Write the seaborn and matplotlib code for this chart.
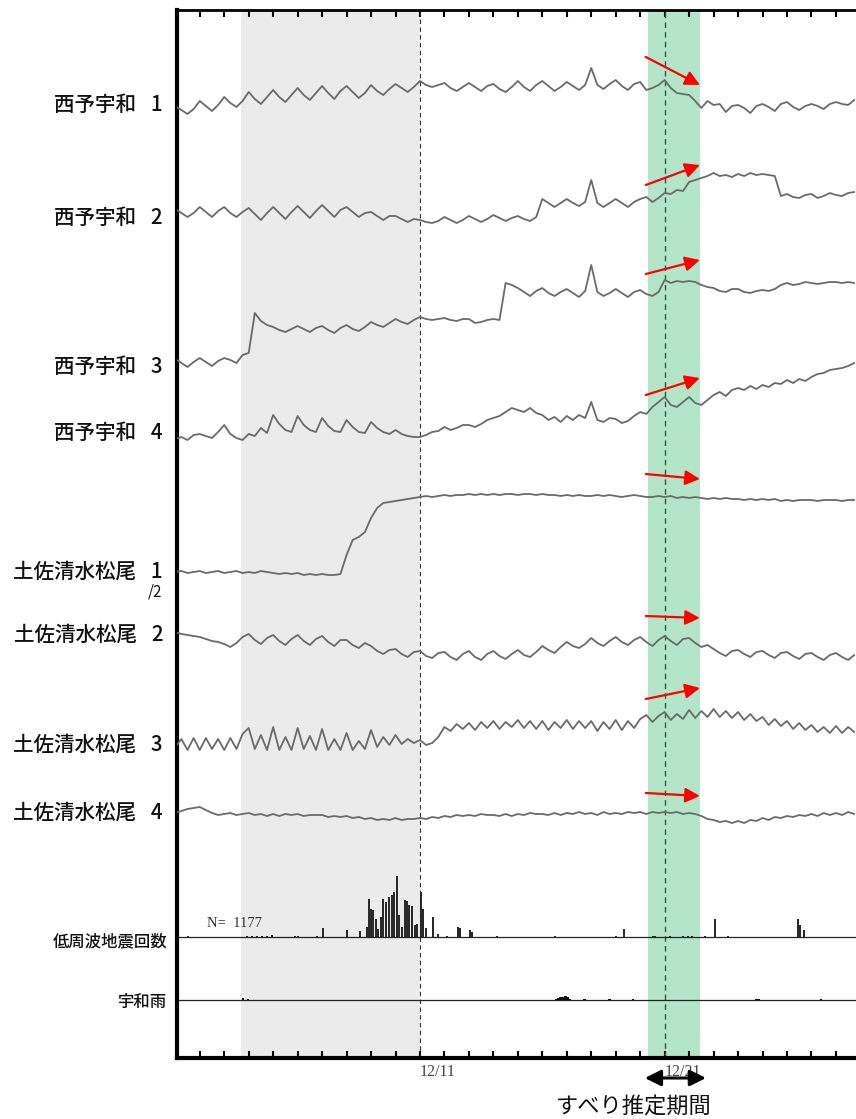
import numpy as np
import pandas as pd
import matplotlib
matplotlib.use("Agg")
import matplotlib.pyplot as plt
import seaborn as sns

# ---------------- data ----------------
# strain-like traces, 4 samples per day starting 12/1 00:00, arbitrary units (up positive)
seiyo_uwa_1 = [4,0,-4,1, 9,4,-1,5, 13,7,3,9, 18,11,6,13, 20,13,8,15, 22,15,10,17, 24,17,11,19,
               24,18,12,17, 25,19,15,21, 26,22,18,23, 29,25,23,25, 27,22,19,23, 27,23,19,24,
               26,21,18,23, 29,23,19,25, 29,24,19,23, 28,24,20,25, 42,25,21,26, 30,24,20,26,
               28,20,22,25, 30,22,17,16, 15,9,2,9, 5,6,-2,4, 5,2,-3,4, 6,3,-1,6, 8,3,0,4,
               6,4,1,6, 8,6,5,10]
seiyo_uwa_2 = [4,0,-4,0, 6,1,-4,2, 6,0,-4,1, 5,-1,-7,0, 6,0,-6,1, 7,1,-5,2, 8,2,-4,3,
               6,1,-4,0, 1,-3,-7,-3, -3,-6,-9,-6, -7,-9,-10,-8, -4,-7,-10,-7, -3,-6,-9,-6,
               -2,-5,-8,-5, -3,-6,-8,-4, 14,10,6,10, 14,10,7,11, 33,10,6,10, 14,10,6,11,
               14,16,11,15, 20,19,23,22, 31,33,35,37, 40,37,38,36, 39,37,40,38, 39,38,37,17,
               19,16,15,18, 19,15,17,20, 18,17,20,21]
seiyo_uwa_3 = [4,0,-4,1, 5,1,-3,2, 5,3,0,8, 10,50,42,38, 36,33,31,34, 37,34,31,35, 37,33,30,35,
               38,34,32,36, 41,38,36,40, 44,41,39,43, 46,44,43,44, 45,43,42,44, 44,40,41,43,
               44,43,80,78, 75,71,67,72, 75,70,67,71, 74,70,66,72, 98,71,67,70, 74,70,66,71,
               73,69,67,71, 83,80,82,81, 82,81,78,76, 75,72,71,74, 74,71,70,72, 73,72,74,78,
               80,78,79,81, 80,79,80,81, 81,80,81,80]
seiyo_uwa_4 = [1,3,0,5, 6,4,2,8, 15,6,2,0, 6,4,12,7, 25,16,10,8, 24,15,10,8, 22,14,9,8,
               20,13,8,7, 18,12,8,6, 10,6,4,3, 3,5,8,9, 13,10,12,15, 15,13,16,20,
               22,24,28,32, 30,28,32,27, 25,20,23,18, 24,20,25,22, 38,20,18,22, 21,17,19,24,
               28,26,33,38, 43,35,33,38, 43,37,35,40, 45,48,44,50, 52,50,54,51, 55,53,57,56,
               60,57,61,59, 63,66,67,70, 71,72,74,77]
tosashimizu_1 = [0,1,-1,0, 1,-1,0,1, -1,0,1,-1, 0,-1,1,0, -1,-2,-1,-2, -1,-3,-2,-3, -2,-3,-3,-2,
                 17,32,35,40, 54,64,69,70, 71,72,73,74, 75,76,75,76, 77,76,77,77, 78,77,78,77,
                 78,77,78,78, 77,78,78,77, 78,77,77,76, 77,76,77,76, 76,77,76,77, 76,75,76,77,
                 76,75,75,76, 75,76,74,75, 74,75,74,73, 74,73,74,73, 73,72,73,72, 73,72,73,71,
                 72,71,72,72, 72,71,72,72, 72,71,72,72]
tosashimizu_2 = [0,-2,-3,-4, -5,-7,-9,-10, -12,-15,-11,-5, -2,-8,-12,-6, -3,-9,-13,-7, -3,-9,-13,-7,
                 -4,-10,-14,-8, -8,-13,-16,-11, -14,-19,-22,-18, -17,-22,-25,-20, -19,-24,-26,-21,
                 -20,-25,-28,-22, -19,-25,-28,-22, -19,-24,-27,-22, -18,-23,-25,-20, -14,-18,-21,-15,
                 -10,-14,-16,-12, -6,-11,-14,-9, -5,-10,-13,-8, -5,-10,-14,-8, -4,-9,-13,-7,
                 -6,-11,-15,-13, -17,-21,-24,-19, -18,-22,-25,-20, -19,-23,-26,-21, -20,-24,-27,-22,
                 -21,-25,-28,-23, -21,-25,-28,-23]
tosashimizu_3 = [0,8,-3,9, -3,9,-2,8, -3,9,-2,13, 19,-2,12,-3, 20,-3,10,-3, 19,-2,11,-3,
                 18,-3,8,-3, 14,-3,6,-2, 17,0,10,2, 12,3,8,4, 7,2,4,10, 20,16,23,18, 24,17,25,19,
                 26,18,25,20, 27,19,26,18, 26,17,25,19, 27,18,26,19, 26,16,25,18, 27,17,26,19,
                 28,32,25,31, 35,27,33,28, 37,29,36,30, 38,30,36,29, 35,27,33,26, 30,22,28,21,
                 26,18,24,17, 22,15,20,14, 21,14,20,15]
tosashimizu_4 = [0,2,4,5, 6,3,0,-2, -1,0,-2,-1, 0,-2,-1,-3, -1,-3,-1,-2, -1,-3,-2,-2, -2,-4,-3,-4,
                 -3,-5,-4,-6, -5,-7,-6,-7, -5,-7,-6,-6, -5,-6,-4,-5, -3,-4,-2,-3, -2,-3,-1,-2,
                 -2,-3,-1,-3, -1,-2,0,-1, -1,-2,0,-2, 0,-1,1,-1, 0,-2,1,-1, 0,-1,1,0,
                 1,-1,1,0, 1,0,1,-1, 0,-1,-3,-6, -7,-9,-8,-10, -8,-10,-7,-8, -5,-7,-4,-5,
                 -3,-4,-2,-3, -1,-3,0,-2, 0,-2,1,-1]

trace_labels = ["西予宇和\u2002 1", "西予宇和\u2002 2", "西予宇和\u2002 3", "西予宇和\u2002 4",
                "土佐清水松尾\u2002 1", "土佐清水松尾\u2002 2", "土佐清水松尾\u2002 3", "土佐清水松尾\u2002 4"]

# low-frequency earthquake counts (day since 12/1, count)
lfe_day = [0.53, 2.92, 3.12, 3.33, 3.53, 3.73, 3.94, 4.89, 5.03, 5.78, 6.02, 7.03, 7.55, 7.82,
           7.92, 8.00, 8.09, 8.20, 8.30, 8.41, 8.50, 8.61, 8.75, 8.84, 8.94, 9.05, 9.15, 9.28,
           9.39, 9.48, 9.56, 9.66, 9.80, 9.89, 10.03, 10.11, 10.25, 10.55, 10.75, 11.09, 11.57,
           11.62, 12.04, 12.11, 13.13, 15.50, 18.02, 18.34, 19.52, 19.60, 20.20, 20.75, 20.95,
           21.10, 21.64, 22.04, 22.59, 25.45, 25.54, 25.68]
lfe_count = [1, 1, 1, 1, 1, 1, 2, 1, 1, 1, 9, 7, 6, 10,
             38, 28, 27, 18, 8, 20, 38, 35, 40, 42, 45, 61, 22, 10,
             37, 36, 32, 31, 12, 13, 45, 28, 9, 20, 3, 1, 10,
             9, 7, 5, 1, 1, 1, 8, 1, 1, 1, 1, 1,
             1, 1, 18, 1, 18, 12, 7]
lfe_total = "N=  1177"

# Uwa rainfall
rain_day = [2.77, 2.97, 15.55, 15.65, 15.75, 15.85, 15.95, 16.05, 16.12, 16.73, 17.75, 18.70,
            23.75, 23.85, 26.40]
rain_mm = [2, 1, 1, 2, 3, 3, 4, 3, 1, 1, 1, 1, 1, 1, 1]

panel_labels = ["低周波地震回数", "宇和雨"]
tick_days = [10, 20]
tick_labels = ["12/11", "12/21"]
tremor_period = (2.68, 10.0)     # grey band
slip_period = (19.32, 21.44)     # green band
slip_center = 20.0
slip_label = "すべり推定期間"

# red arrows (start level, end level) for each trace
arrow_days = (19.23, 21.44)
arrow_y0 = [1001, 873, 784, 663, 584, 442, 359, 265]
arrow_y1 = [973, 893, 798, 680, 579, 440, 370, 262]

# ---------------- layout ----------------
W, H = 856, 1119
trace_base = [948, 845, 695, 618, 486, 426, 311, 245]
label_px = [105, 218, 367, 433, 572, 635, 745, 813]
lfe_base, rain_base = 121.5, 58.0
panel_label_px = [942, 1002]

sns.set_theme(style="white")
plt.rcParams['font.family'] = ['Noto Sans CJK JP', 'DejaVu Sans']

fig = plt.figure(figsize=(W / 100, H / 100), dpi=100)
ax = fig.add_axes([177 / W, (H - 1058) / H, (W - 177) / W, (1058 - 10) / H])
ax.set_xlim(0.07, 27.82)
ax.set_ylim(0, 1048)

ax.axvspan(*tremor_period, color="#ebebeb", zorder=0, lw=0)
ax.axvspan(*slip_period, color="#b3e6c9", zorder=0.5, lw=0)
ax.axvline(tremor_period[1], color="#333333", lw=0.8, ls=(0, (4, 3)), zorder=1)
ax.axvline(slip_center, color="#2f5a44", lw=1.0, ls=(0, (4, 3)), zorder=1)

traces = [seiyo_uwa_1, seiyo_uwa_2, seiyo_uwa_3, seiyo_uwa_4,
          tosashimizu_1, tosashimizu_2, tosashimizu_3, tosashimizu_4]
for vals, base in zip(traces, trace_base):
    d = np.arange(len(vals)) * 0.25
    df = pd.DataFrame({"day": d, "value": base + np.asarray(vals, float)})
    sns.lineplot(data=df, x="day", y="value", ax=ax, color="#6a6a6a", lw=1.3, zorder=3)

# panels: LFE counts and rainfall
ax.axhline(lfe_base, color="#222222", lw=0.9, zorder=2)
ax.axhline(rain_base, color="#222222", lw=0.9, zorder=2)
ax.bar(lfe_day, lfe_count, bottom=lfe_base, width=0.08, color="#2a2a2a", zorder=3, lw=0)
ax.bar(rain_day, rain_mm, bottom=rain_base, width=0.1, color="#111111", zorder=3, lw=0)
ax.text(1.3, lfe_base + 13, lfe_total, fontsize=10.5, family="Liberation Serif",
        color="#333333", va="center", ha="left")

# red arrows
for y0, y1 in zip(arrow_y0, arrow_y1):
    ax.annotate("", xy=(arrow_days[1], y1), xytext=(arrow_days[0], y0),
                arrowprops=dict(arrowstyle="-|>", color="#ff0000", lw=1.6,
                                mutation_scale=22, shrinkA=0, shrinkB=0), zorder=5)

# axes styling
ax.set_xlabel("")
ax.set_ylabel("")
ax.set_yticks([])
ax.set_xticks(range(1, 28))
ax.set_xticklabels([tick_labels[tick_days.index(t)] if t in tick_days else "" for t in range(1, 28)],
                   family="Liberation Serif", fontsize=11.5, color="#444444", ha="left")
ax.tick_params(axis="x", direction="in", length=5, width=1.5, top=True, bottom=True,
               labeltop=False, pad=4, color="black")
for s in ["left", "bottom"]:
    ax.spines[s].set_linewidth(3)
    ax.spines[s].set_color("black")
ax.spines["top"].set_linewidth(2)
ax.spines["top"].set_color("black")
ax.spines["right"].set_visible(False)

# labels on the left
for lab, ypx in zip(trace_labels, label_px):
    fig.text(163 / W, 1 - ypx / H, lab, ha="right", va="center", fontsize=14.8,
             fontweight="medium", color="#111111")
for lab, ypx in zip(panel_labels, panel_label_px):
    fig.text(167 / W, 1 - ypx / H, lab, ha="right", va="center", fontsize=11.8,
             fontweight="medium", color="#111111")
fig.text(155 / W, 1 - 592 / H, "/2", ha="center", va="center", fontsize=11, color="#111111")

# slip period arrow and label
ax.annotate("", xy=(21.69, 1 - 1078 / H), xytext=(19.19, 1 - 1078 / H),
            xycoords=("data", "figure fraction"), textcoords=("data", "figure fraction"),
            arrowprops=dict(arrowstyle="<|-|>", color="black", lw=2.2, mutation_scale=24,
                            shrinkA=0, shrinkB=0), annotation_clip=False)
fig.text(634 / W, 1 - 1106 / H, slip_label, ha="center", va="center", fontsize=16, color="#111111")

fig.savefig("out.png", dpi=100)
